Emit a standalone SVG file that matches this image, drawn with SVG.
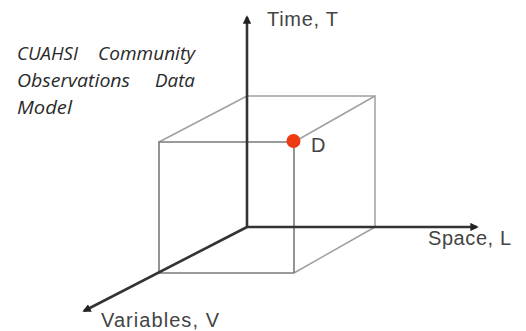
<svg xmlns="http://www.w3.org/2000/svg" width="526" height="331" viewBox="0 0 526 331">
<style>
.cube{stroke:#a0a0a0;stroke-width:1.5;fill:none}
.front{stroke:#7a7a7a;stroke-width:1.6;fill:none}
.axis{stroke:#333;stroke-width:2.6;fill:none;marker-end:url(#ah)}
.lbl{font-family:"Liberation Sans",Arial,sans-serif;font-size:20px;fill:#444}
.ttl{font-family:"Open Sans","Liberation Sans",sans-serif;font-style:italic;font-size:18px;fill:#2a2a2a}
</style>
<defs>
<marker id="ah" viewBox="0 0 10 10" refX="8" refY="5" markerWidth="3.2" markerHeight="3.2" orient="auto" markerUnits="strokeWidth">
<path d="M0,0 L10,5 L0,10 Z" fill="#222"/>
</marker>
</defs>
<rect width="526" height="331" fill="#fff"/>
<g id="cube">
<polyline class="cube" points="247,96 375,96 375,227"/>
<line class="cube" x1="159" y1="142" x2="247" y2="96"/>
<line class="cube" x1="294" y1="142" x2="375" y2="96"/>
<line class="cube" x1="294" y1="273" x2="375" y2="227"/>
<polyline class="front" points="159,273 159,142 294,142"/>
<line class="front" x1="159" y1="273" x2="294" y2="273"/>
<line class="front" x1="294" y1="142" x2="294" y2="273"/>
</g>
<g id="connectors">
<line class="axis" x1="247" y1="227" x2="247" y2="17"/>
<line class="axis" x1="247" y1="227" x2="477" y2="227"/>
<line class="axis" x1="247" y1="227" x2="84" y2="311"/>
</g>
<g id="title">
<text class="ttl" x="17" y="60" textLength="61" lengthAdjust="spacingAndGlyphs">CUAHSI</text>
<text class="ttl" x="98" y="60" textLength="97" lengthAdjust="spacingAndGlyphs">Community</text>
<text class="ttl" x="17" y="87" textLength="113" lengthAdjust="spacingAndGlyphs">Observations</text>
<text class="ttl" x="155" y="87" textLength="40" lengthAdjust="spacingAndGlyphs">Data</text>
<text class="ttl" x="17" y="114" textLength="55" lengthAdjust="spacingAndGlyphs">Model</text>
</g>
<g id="time"><text class="lbl" x="267" y="26" textLength="71">Time, T</text></g>
<g id="space"><text class="lbl" x="428" y="245" textLength="83">Space, L</text></g>
<g id="variables"><text class="lbl" x="101" y="327" textLength="118">Variables, V</text></g>
<g id="pointD">
<circle cx="293.5" cy="141" r="7" fill="#ee3a12"/>
<text class="lbl" x="311" y="152">D</text>
</g>
</svg>
